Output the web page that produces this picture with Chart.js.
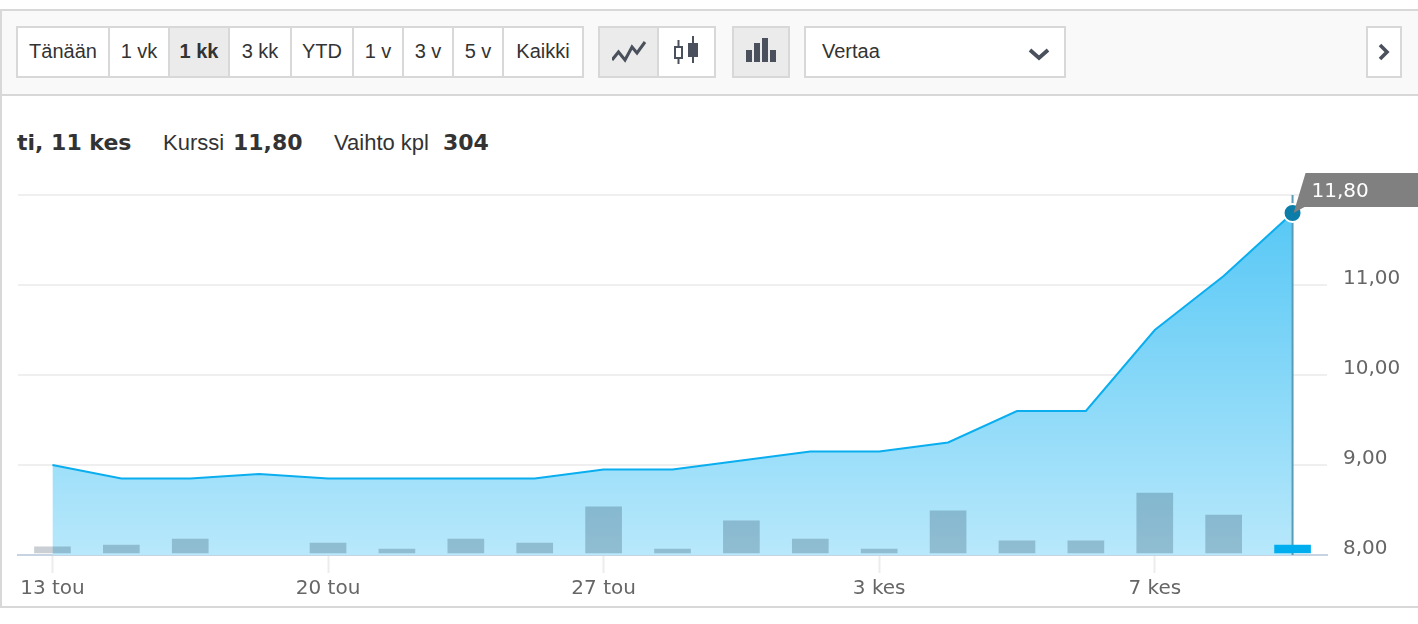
<!DOCTYPE html>
<html lang="fi">
<head>
<meta charset="utf-8">
<title>Kurssi</title>
<script src="https://cdn.jsdelivr.net/npm/chart.js@4/dist/chart.umd.min.js"></script>
<style>
html,body{margin:0;padding:0;background:#fff;width:1418px;height:624px;overflow:hidden}
#frame{position:absolute;left:0;top:9px;width:1418px;height:599px;box-sizing:border-box;border:2px solid #d8d8d8;border-right:none;background:#fff}
#bar{position:absolute;left:0;top:9px;width:1418px;height:87px;box-sizing:border-box;background:#f9f9f9;border:2px solid #d8d8d8;border-right:none}
.grp{position:absolute;top:26px;height:52px;box-sizing:border-box;border:2px solid #d8d8d8;background:#fff;font:20px "Liberation Sans",Arial,sans-serif;color:#333}
.btn{position:absolute;top:0;height:48px;line-height:46px;text-align:center;box-sizing:border-box;border-left:2px solid #d8d8d8}
.btn.first{border-left:none}
.on{background:#ebebeb}
.b{font-weight:bold}
svg{position:absolute;display:block}
.hd{position:absolute;top:130px;line-height:26px;white-space:nowrap;color:#333}
.s{font:22px "Liberation Sans",Arial,sans-serif;line-height:26px}
.v{font:bold 22px "DejaVu Sans",Verdana,sans-serif;line-height:26px}
#wrap{position:absolute;left:0;top:96px;width:1418px;height:510px}
</style>
</head>
<body>
<div id="frame"></div>
<div id="bar"></div>

<div class="grp" style="left:16px;width:568px">
  <div class="btn first" style="left:0;width:90px">Tänään</div>
  <div class="btn" style="left:90px;width:60px">1 vk</div>
  <div class="btn on b" style="left:150px;width:60px">1 kk</div>
  <div class="btn" style="left:210px;width:62px">3 kk</div>
  <div class="btn" style="left:272px;width:62px">YTD</div>
  <div class="btn" style="left:334px;width:50px">1 v</div>
  <div class="btn" style="left:384px;width:50px">3 v</div>
  <div class="btn" style="left:434px;width:50px">5 v</div>
  <div class="btn" style="left:484px;width:80px">Kaikki</div>
</div>

<div class="grp" style="left:598px;width:118px">
  <div class="btn first on" style="left:0;width:57px">
    <svg style="left:12px;top:12px" width="36" height="24" viewBox="0 0 36 24"><polyline points="0,20 6.5,12 13,20 20,7 25,13 33,2" fill="none" stroke="#4a505c" stroke-width="3"/></svg>
  </div>
  <div class="btn" style="left:57px;width:57px">
    <svg style="left:13px;top:8px" width="32" height="32" viewBox="0 0 32 32"><g fill="none" stroke="#4a505c" stroke-width="2"><line x1="6.5" y1="4" x2="6.5" y2="11"/><line x1="6.5" y1="22" x2="6.5" y2="28"/><rect x="3" y="11" width="7" height="11"/><line x1="21" y1="0" x2="21" y2="27"/></g><rect x="16" y="7" width="10" height="14" fill="#4a505c"/></svg>
  </div>
</div>

<div class="grp on" style="left:732px;width:58px">
  <svg style="left:12px;top:10px" width="32" height="26" viewBox="0 0 32 26"><g fill="#4a505c"><rect x="0" y="12" width="6" height="12"/><rect x="8" y="5" width="6" height="19"/><rect x="16" y="0" width="6" height="24"/><rect x="24" y="12" width="6" height="12"/></g></svg>
</div>

<div class="grp" style="left:804px;width:262px">
  <div style="position:absolute;left:16px;top:0;line-height:46px">Vertaa</div>
  <svg style="left:222px;top:20px" width="22" height="14" viewBox="0 0 22 14"><polyline points="2,2 11,10 20,2" fill="none" stroke="#4a505c" stroke-width="3.8"/></svg>
</div>

<div class="grp" style="left:1366px;width:36px">
  <svg style="left:9px;top:14px" width="14" height="20" viewBox="0 0 14 20"><polyline points="3,3 10,10 3,17" fill="none" stroke="#4a505c" stroke-width="3.6"/></svg>
</div>

<div class="hd v" style="left:17px">ti, 11 kes</div>
<div class="hd s" style="left:163px">Kurssi</div>
<div class="hd v" style="left:233px">11,80</div>
<div class="hd s" style="left:334px">Vaihto kpl</div>
<div class="hd v" style="left:443px">304</div>

<div id="wrap"><canvas id="c" width="1418" height="510"></canvas></div>

<script>
const categories = ['13 tou','14 tou','15 tou','16 tou','20 tou','21 tou','22 tou','23 tou','27 tou','28 tou','29 tou','31 tou','3 kes','4 kes','5 kes','6 kes','7 kes','10 kes','11 kes'];
const tickLabels = ['13 tou','20 tou','27 tou','3 kes','7 kes'];
const closePrices = [9.00,8.85,8.85,8.90,8.85,8.85,8.85,8.85,8.95,8.95,9.05,9.15,9.15,9.25,9.60,9.60,10.50,11.10,11.80];
const volumes = [230,300,530,null,380,150,530,380,1750,150,1220,530,150,1600,460,460,2280,1440,304];
const priceTicks = [8,9,10,11,12];

const lastIndex = closePrices.length - 1;
const lastPrice = closePrices[lastIndex];
const fmt = v => v.toFixed(2).replace('.', ',');

const overlay = {
  id: 'overlay',
  beforeDatasetDraw(chart, args) {
    if (args.index !== 1) return;
    const {ctx, chartArea, scales} = chart;
    const x = scales.x.getPixelForValue(lastIndex);
    ctx.save();
    ctx.strokeStyle = '#5a9cb6';
    ctx.lineWidth = 2;
    ctx.beginPath();
    ctx.moveTo(x, chartArea.top);
    ctx.lineTo(x, chartArea.bottom);
    ctx.stroke();
    ctx.restore();
  },
  afterDatasetsDraw(chart) {
    const {ctx, scales} = chart;
    const x = scales.x.getPixelForValue(lastIndex);
    const y = scales.y.getPixelForValue(lastPrice);
    ctx.save();
    ctx.fillStyle = '#808080';
    ctx.beginPath();
    ctx.moveTo(x + 1, y);
    ctx.lineTo(x + 13, y - 40);
    ctx.lineTo(1418, y - 40);
    ctx.lineTo(1418, y - 6);
    ctx.lineTo(x + 12, y - 6);
    ctx.closePath();
    ctx.fill();
    ctx.fillStyle = '#fff';
    ctx.font = '20px "DejaVu Sans", Verdana, sans-serif';
    ctx.textBaseline = 'middle';
    ctx.textAlign = 'left';
    ctx.fillText(fmt(lastPrice), x + 19, y - 21);
    ctx.restore();
  }
};

new Chart(document.getElementById('c'), {
  data: {
    labels: categories,
    datasets: [
      {
        type: 'line', label: 'Kurssi', data: closePrices, yAxisID: 'y', order: 3,
        borderColor: '#0aaeef', borderWidth: 2, tension: 0, pointRadius: 0, fill: 'start',
        backgroundColor(c) {
          const a = c.chart.chartArea;
          if (!a) return '#8fd9f7';
          const g = c.chart.ctx.createLinearGradient(0, a.top, 0, a.bottom);
          g.addColorStop(0, '#52c6f5');
          g.addColorStop(1, '#b8e8fb');
          return g;
        }
      },
      {
        type: 'bar', label: 'Vaihto', data: volumes, yAxisID: 'vol', order: 2,
        barThickness: 36,
        backgroundColor: volumes.map((v, i) => i === lastIndex ? '#00aeef' : 'rgba(0,30,50,0.21)'),
        borderWidth: 0
      },
      {
        type: 'line', label: 'Viimeisin', data: closePrices.map((v, i) => i === lastIndex ? v : null),
        yAxisID: 'y', order: 1, showLine: false,
        pointRadius: 9, pointBorderWidth: 2, pointBackgroundColor: '#0b7da8', pointBorderColor: '#fff'
      }
    ]
  },
  options: {
    responsive: false,
    animation: false,
    events: [],
    layout: {padding: {left: 18, top: 99, right: 0, bottom: 0}},
    plugins: {legend: {display: false}, tooltip: {enabled: false}},
    scales: {
      x: {
        type: 'category',
        offset: true,
        afterFit(s) { s.height = 51; },
        border: {color: '#c6d3e2', width: 2},
        grid: {
          offset: false,
          drawOnChartArea: false, drawTicks: true, tickLength: 18, tickWidth: 2,
          tickColor: c => tickLabels.includes(categories[c.index]) ? '#ececec' : 'rgba(0,0,0,0)'
        },
        ticks: {
          autoSkip: false, maxRotation: 0, minRotation: 0, padding: 4, color: '#666',
          font: {family: '"DejaVu Sans", Verdana, sans-serif', size: 20},
          callback(v, i) { const t = categories[i]; return tickLabels.includes(t) ? t : ''; }
        }
      },
      y: {
        position: 'right', min: priceTicks[0], max: priceTicks[priceTicks.length - 1],
        afterFit(s) { s.width = 91; },
        afterBuildTicks(s) { s.ticks = priceTicks.map(value => ({value})); },
        border: {display: false},
        grid: {color: '#efefef', lineWidth: 2, drawTicks: false},
        ticks: {
          padding: 16, labelOffset: -6, color: '#666',
          font: {family: '"DejaVu Sans", Verdana, sans-serif', size: 20},
          callback: v => fmt(v)
        }
      },
      vol: {
        display: false, min: -76, max: 13604
      }
    }
  },
  plugins: [overlay]
});
</script>
</body>
</html>
